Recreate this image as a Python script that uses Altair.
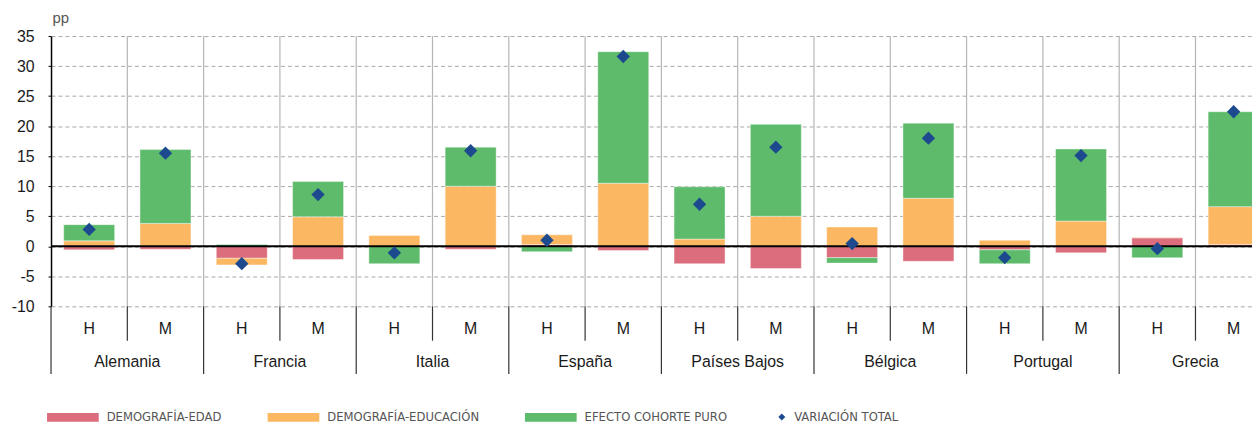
import altair as alt
import pandas as pd

paises = ["Alemania", "Francia", "Italia", "España", "Países Bajos", "Bélgica", "Portugal", "Grecia"]
sexos = ["H", "M"]
componentes = ["DEMOGRAFÍA-EDAD", "DEMOGRAFÍA-EDUCACIÓN", "EFECTO COHORTE PURO"]
colores = ["#dc6d7c", "#fbb762", "#5dbb6b"]
serie_total = "VARIACIÓN TOTAL"

# order: Alemania H, Alemania M, Francia H, Francia M, ...
edad = [-0.6, -0.5, -2.0, -2.2, 0.0, -0.5, 0.3, -0.7, -2.9, -3.7, -1.9, -2.5, -0.6, -1.1, 1.4, 0.3]
educacion = [0.9, 3.8, -1.1, 4.9, 1.8, 10.0, 1.6, 10.5, 1.2, 5.0, 3.2, 8.0, 1.0, 4.2, 0.1, 6.3]
cohorte = [2.7, 12.3, 0.3, 5.9, -2.9, 6.5, -0.9, 21.9, 8.7, 15.3, -0.9, 12.5, -2.3, 12.0, -1.9, 15.8]
total = [2.8, 15.5, -2.9, 8.6, -1.1, 15.9, 1.0, 31.6, 7.0, 16.5, 0.45, 18.0, -1.9, 15.1, -0.4, 22.4]
y_ticks = [-10, -5, 0, 5, 10, 15, 20, 25, 30, 35]

keys = [f"{p}|{s}" for p in paises for s in sexos]

rows = []
for i, k in enumerate(keys):
    for j, (c, vals) in enumerate(zip(componentes, [edad, educacion, cohorte])):
        rows.append({"key": k, "componente": c, "valor": vals[i], "orden": j})
df_bars = pd.DataFrame(rows)
df_tot = pd.DataFrame({"key": keys, "total": total, "serie": [serie_total] * len(keys)})
df_pais = pd.DataFrame({"key": [f"{p}|H" for p in paises], "pais": paises})
df_sep = pd.DataFrame({"key": keys, "tipo": ["pais" if k.endswith("|H") else "sexo" for k in keys]})

PAD_L, PAD_T = 43.3, 26.9
W, H = 1208.7, 272.0
FONT = "Liberation Sans"
LFONT = "Liberation Sans Narrow, DejaVu Sans Condensed, Liberation Sans"

# the original chart runs slightly past the right edge of the picture
xscale = alt.Scale(domain=keys, paddingInner=0, paddingOuter=0, range=[0, 1228.6])
yscale = alt.Scale(domain=[-10, 35], nice=False, zero=False)
xaxis = alt.Axis(
    title=None, domain=False, ticks=False, grid=False,
    labelExpr="split(datum.value, '|')[1]", labelAngle=0,
    labelFont=FONT, labelFontSize=16, labelColor="#1a1a1a", labelPadding=14,
)
yaxis = alt.Axis(
    values=y_ticks, title="pp", titleAngle=0, titleAlign="left", titleBaseline="alphabetic",
    titleX=1, titleY=-14, titleFont=FONT, titleFontSize=15, titleFontWeight="normal",
    titleColor="#555555",
    labelExpr="datum.value < 0 ? '-' + abs(datum.value) : '' + datum.value",
    labelFont=FONT, labelFontSize=16, labelColor="#1a1a1a", labelPadding=14,
    tickSize=3, tickColor="#000000",
    domain=True, domainColor="#000000", domainWidth=1.5,
    grid=True, gridDash=[4, 3], gridColor="#a8a8a8", gridWidth=1,
)

def X(field="key", bp=None):
    if bp is None:
        return alt.X(f"{field}:N", scale=xscale, axis=xaxis, title=None, sort=keys)
    return alt.X(f"{field}:N", scale=xscale, axis=xaxis, title=None, sort=keys, bandPosition=bp)

sep_in = alt.Chart(df_sep).transform_filter(
    f"datum.key != '{keys[0]}'"
).mark_rule(color="#b5b5b5", strokeWidth=1.2).encode(
    x=X(bp=0), y=alt.datum(35, scale=yscale, axis=yaxis), y2=alt.datum(-10)
)

leg1 = alt.Legend(
    title=None, orient="none", legendX=-4, legendY=357.8, direction="horizontal", columns=3,
    columnPadding=46, symbolType="M-1,-0.17H1V0.17H-1Z", symbolSize=2704,
    symbolStrokeWidth=0, symbolOpacity=1, labelFont=LFONT, labelFontSize=13,
    labelColor="#555555", labelOffset=8, labelLimit=0, padding=0,
)
bars = alt.Chart(df_bars).mark_bar(
    width=alt.RelativeBandSize(0.668), stroke="white", strokeWidth=0.8, strokeOpacity=0.5
).encode(
    x=X(),
    y=alt.Y("valor:Q", stack="zero", scale=yscale, axis=yaxis),
    color=alt.Color("componente:N", scale=alt.Scale(domain=componentes, range=colores), legend=leg1),
    order=alt.Order("orden:Q"),
)

zero = alt.Chart(pd.DataFrame({"v": [0]})).mark_rule(color="black", strokeWidth=2).encode(
    y=alt.Y("v:Q", scale=yscale, axis=yaxis)
)

leg2 = alt.Legend(
    title=None, orient="none", legendX=729, legendY=376.8, symbolSize=49,
    symbolFillColor="#1d4a8e", symbolStrokeWidth=0, symbolOpacity=1,
    labelFont=LFONT, labelFontSize=13, labelColor="#555555", labelOffset=6,
    labelLimit=0, padding=0,
)
pts = alt.Chart(df_tot).mark_point(filled=True, opacity=1, size=180, color="#1d4a8e").encode(
    x=X(),
    y=alt.Y("total:Q", scale=yscale, axis=yaxis),
    shape=alt.Shape("serie:N", scale=alt.Scale(domain=[serie_total], range=["diamond"]), legend=leg2),
)

sep_pais = alt.Chart(df_sep).transform_filter("datum.tipo == 'pais'").mark_rule(
    color="#333333", strokeWidth=1.2
).encode(x=X(bp=0), y=alt.value(H), y2=alt.value(H + 68))

sep_sexo = alt.Chart(df_sep).transform_filter("datum.tipo == 'sexo'").mark_rule(
    color="#333333", strokeWidth=1.2
).encode(x=X(bp=0), y=alt.value(H), y2=alt.value(H + 34.6))

labels = alt.Chart(df_pais).mark_text(
    font=FONT, fontSize=16, color="#1a1a1a", baseline="middle", align="center"
).encode(x=X(bp=1), y=alt.value(H + 56), text="pais:N")

chart = alt.layer(sep_in, bars, zero, pts, sep_pais, sep_sexo, labels).properties(
    width=W, height=H,
    autosize=alt.AutoSizeParams(type="none"),
    padding={"left": PAD_L, "top": PAD_T, "right": 0, "bottom": 119.1},
    background="white",
).configure_view(stroke=None)

chart.save("out.html", embed_options={"renderer": "svg", "actions": False})
